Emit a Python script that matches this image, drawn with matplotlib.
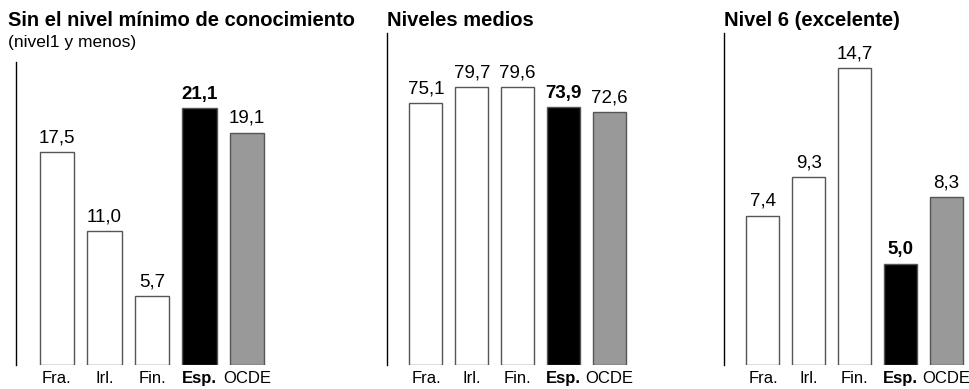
import matplotlib

matplotlib.use("Agg")
import matplotlib.pyplot as plt

plt.rcParams["font.family"] = ["Liberation Sans", "DejaVu Sans"]

COUNTRIES = ["Fra.", "Irl.", "Fin.", "Esp.", "OCDE"]
LOW_LEVEL = [17.5, 11.0, 5.7, 21.1, 19.1]
MID_LEVELS = [75.1, 79.7, 79.6, 73.9, 72.6]
TOP_LEVEL = [7.4, 9.3, 14.7, 5.0, 8.3]

TITLES = ["Sin el nivel mínimo de conocimiento", "Niveles medios", "Nivel 6 (excelente)"]
SUBTITLE = "(nivel1 y menos)"

FACE = ["white", "white", "white", "black", "#999999"]
HIGHLIGHT = 3  # Esp.

W, H = 970, 389
fig = plt.figure(figsize=(W / 100, H / 100), dpi=100)


def px_axes(left, top, width, bottom):
    """Add axes using pixel coordinates measured from the top-left corner."""
    return fig.add_axes([left / W, 1 - bottom / H, width / W, (bottom - top) / H])


def draw_panel(ax, values, ymax):
    x = range(len(values))
    ax.bar(x, values, width=0.72, color=FACE, edgecolor="#555555", linewidth=1.0)
    for i, v in enumerate(values):
        ax.annotate(
            f"{v:.1f}".replace(".", ","),
            (i, v),
            xytext=(0, 4),
            textcoords="offset points",
            ha="center",
            va="bottom",
            fontsize=13.5,
            fontweight="bold" if i == HIGHLIGHT else "normal",
        )
    ax.set_xlim(-0.85, 4.45)
    ax.set_ylim(0, ymax)
    ax.set_xticks(list(x))
    ax.set_xticklabels(COUNTRIES, fontsize=12)
    ax.get_xticklabels()[HIGHLIGHT].set_fontweight("bold")
    ax.tick_params(axis="x", length=0, pad=4)
    ax.set_yticks([])
    for side in ("top", "right", "bottom"):
        ax.spines[side].set_visible(False)
    ax.spines["left"].set_linewidth(1.0)


ax1 = px_axes(16.5, 62, 252, 365)
draw_panel(ax1, LOW_LEVEL, 303 / 12.17)
ax2 = px_axes(387, 33, 243, 365)
draw_panel(ax2, MID_LEVELS, 332 / 3.49)
ax3 = px_axes(724, 33, 243, 365)
draw_panel(ax3, TOP_LEVEL, 332 / 20.2)

fig.text(8 / W, 1 - 20 / H, TITLES[0], fontsize=14.5, fontweight="bold", va="center")
fig.text(8 / W, 1 - 43 / H, SUBTITLE, fontsize=12.5, va="center")
fig.text(387 / W, 1 - 20 / H, TITLES[1], fontsize=14.5, fontweight="bold", va="center")
fig.text(724 / W, 1 - 20 / H, TITLES[2], fontsize=14.5, fontweight="bold", va="center")

fig.savefig("out.png", dpi=100)
